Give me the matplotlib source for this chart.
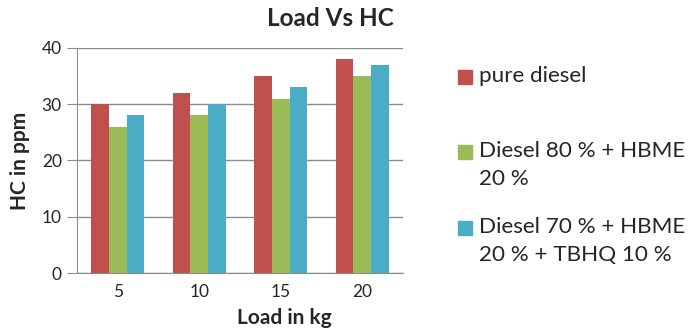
import numpy as np
import matplotlib.pyplot as plt
from matplotlib.patches import Rectangle

plt.rcParams['font.family'] = ['Lato', 'DejaVu Sans']

# Data
loads = ['5', '10', '15', '20']
pure_diesel = [30, 32, 35, 38]
diesel80_hbme20 = [26, 28, 31, 35]
diesel70_hbme20_tbhq10 = [28, 30, 33, 37]

series_names = ['pure diesel',
                'Diesel 80 % + HBME\n20 %',
                'Diesel 70 % + HBME\n20 % + TBHQ 10 %']
series_colors = ['#C0504D', '#9BBB59', '#4BACC6']
text_color = '#262626'

W, H = 690, 334
fig = plt.figure(figsize=(W / 100, H / 100), dpi=100)
ax = fig.add_axes([77 / W, 1 - 273 / H, 326 / W, 225 / H])

x = np.arange(len(loads))
bw = 0.217
all_series = [pure_diesel, diesel80_hbme20, diesel70_hbme20_tbhq10]
for i, (vals, c) in enumerate(zip(all_series, series_colors)):
    ax.bar(x + (i - 1) * bw, vals, width=bw, color=c, zorder=3)

ax.set_xlim(-0.5, len(loads) - 0.5)
ax.set_ylim(0, 40)
ax.set_yticks([0, 10, 20, 30, 40])
ax.set_xticks(x)
ax.set_xticklabels(loads)
ax.grid(axis='y', color='#8C8C8C', linewidth=1, zorder=0)
for s in ['top', 'right']:
    ax.spines[s].set_visible(False)
ax.spines['left'].set_color('#8C8C8C')
ax.spines['bottom'].set_color('#8C8C8C')
ax.tick_params(axis='y', length=7, color='#8C8C8C', labelsize=12.5, pad=4,
               labelcolor=text_color)
ax.tick_params(axis='x', length=0, labelsize=12.5, pad=8, labelcolor=text_color)

ax.set_ylabel('HC in ppm', fontsize=15, fontweight='bold', labelpad=8,
              color=text_color)
fig.text(284 / W, 1 - 318 / H, 'Load in kg', fontsize=15, fontweight='bold',
         ha='center', va='center', color=text_color)
fig.text(330 / W, 1 - 18 / H, 'Load Vs HC', fontsize=17.5, fontweight='bold',
         ha='center', va='center', color=text_color)

# Legend, placed like the Excel one
rows_y = [77, 152, 228]
for name, c, yy in zip(series_names, series_colors, rows_y):
    fig.patches.append(Rectangle((458 / W, 1 - (yy + 7) / H), 14 / W, 14 / H,
                                 transform=fig.transFigure, color=c))
    fig.text(479 / W, 1 - (yy - 11) / H, name, fontsize=16.2, ha='left', va='top',
             linespacing=1.5, color=text_color)

fig.savefig('out.png', dpi=100)
